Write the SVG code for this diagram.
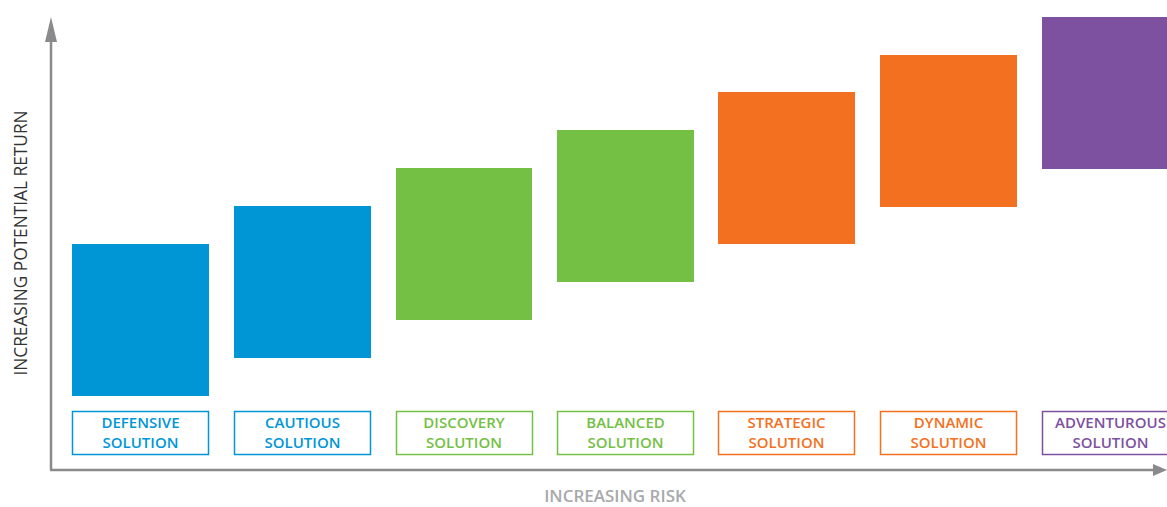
<svg xmlns="http://www.w3.org/2000/svg" width="1167" height="507" viewBox="0 0 1167 507">
<style>
.lbl{font-family:"Open Sans","Liberation Sans",sans-serif;font-weight:600;font-size:15px;text-anchor:middle}
.lb{fill:#fff;stroke-width:1.5}
.blue{fill:#0096D6}.green{fill:#74C044}.orange{fill:#F37021}.purple{fill:#7D50A0}
.sblue{stroke:#0096D6}.sgreen{stroke:#74C044}.sorange{stroke:#F37021}.spurple{stroke:#7D50A0}
.axis{stroke:#8A8A8C;stroke-width:2.5;fill:none}
</style>
<rect width="1167" height="507" fill="#fff"/>
<g id="axes">
<path class="axis" d="M51 470 V38 M50 470 H1158"/>
<polygon points="51,17 45,42 57,42" fill="#8A8A8C"/>
<polygon points="1167,470 1153,464 1153,476" fill="#8A8A8C"/>
<text x="22" y="243" transform="rotate(-90 22 243)" font-family="Open Sans,Liberation Sans,sans-serif" font-size="17.3" fill="#333" text-anchor="middle" dominant-baseline="middle">INCREASING POTENTIAL RETURN</text>
<text x="615" y="502" font-family="Open Sans,Liberation Sans,sans-serif" font-size="17" font-weight="600" fill="#A7A9AC" text-anchor="middle">INCREASING RISK</text>
</g>
<g id="defensive"><rect class="blue" x="72" y="244" width="137" height="152"/><rect class="lb sblue" x="72.5" y="411.5" width="136" height="43"/><text class="lbl blue" x="140.5" y="428">DEFENSIVE</text><text class="lbl blue" x="140.5" y="447.5">SOLUTION</text></g>
<g id="cautious"><rect class="blue" x="234" y="206" width="137" height="152"/><rect class="lb sblue" x="234.5" y="411.5" width="136" height="43"/><text class="lbl blue" x="302.5" y="428">CAUTIOUS</text><text class="lbl blue" x="302.5" y="447.5">SOLUTION</text></g>
<g id="discovery"><rect class="green" x="396" y="168" width="136" height="152"/><rect class="lb sgreen" x="396.5" y="411.5" width="136" height="43"/><text class="lbl green" x="464" y="428">DISCOVERY</text><text class="lbl green" x="464" y="447.5">SOLUTION</text></g>
<g id="balanced"><rect class="green" x="557" y="130" width="137" height="152"/><rect class="lb sgreen" x="557.5" y="411.5" width="136" height="43"/><text class="lbl green" x="625.5" y="428">BALANCED</text><text class="lbl green" x="625.5" y="447.5">SOLUTION</text></g>
<g id="strategic"><rect class="orange" x="718" y="92" width="137" height="152"/><rect class="lb sorange" x="718.5" y="411.5" width="136" height="43"/><text class="lbl orange" x="786.5" y="428">STRATEGIC</text><text class="lbl orange" x="786.5" y="447.5">SOLUTION</text></g>
<g id="dynamic"><rect class="orange" x="880" y="55" width="137" height="152"/><rect class="lb sorange" x="880.5" y="411.5" width="136" height="43"/><text class="lbl orange" x="948.5" y="428">DYNAMIC</text><text class="lbl orange" x="948.5" y="447.5">SOLUTION</text></g>
<g id="adventurous"><rect class="purple" x="1042" y="17" width="137" height="152"/><rect class="lb spurple" x="1042.5" y="411.5" width="136" height="43"/><text class="lbl purple" x="1110.5" y="428">ADVENTUROUS</text><text class="lbl purple" x="1110.5" y="447.5">SOLUTION</text></g>
</svg>
